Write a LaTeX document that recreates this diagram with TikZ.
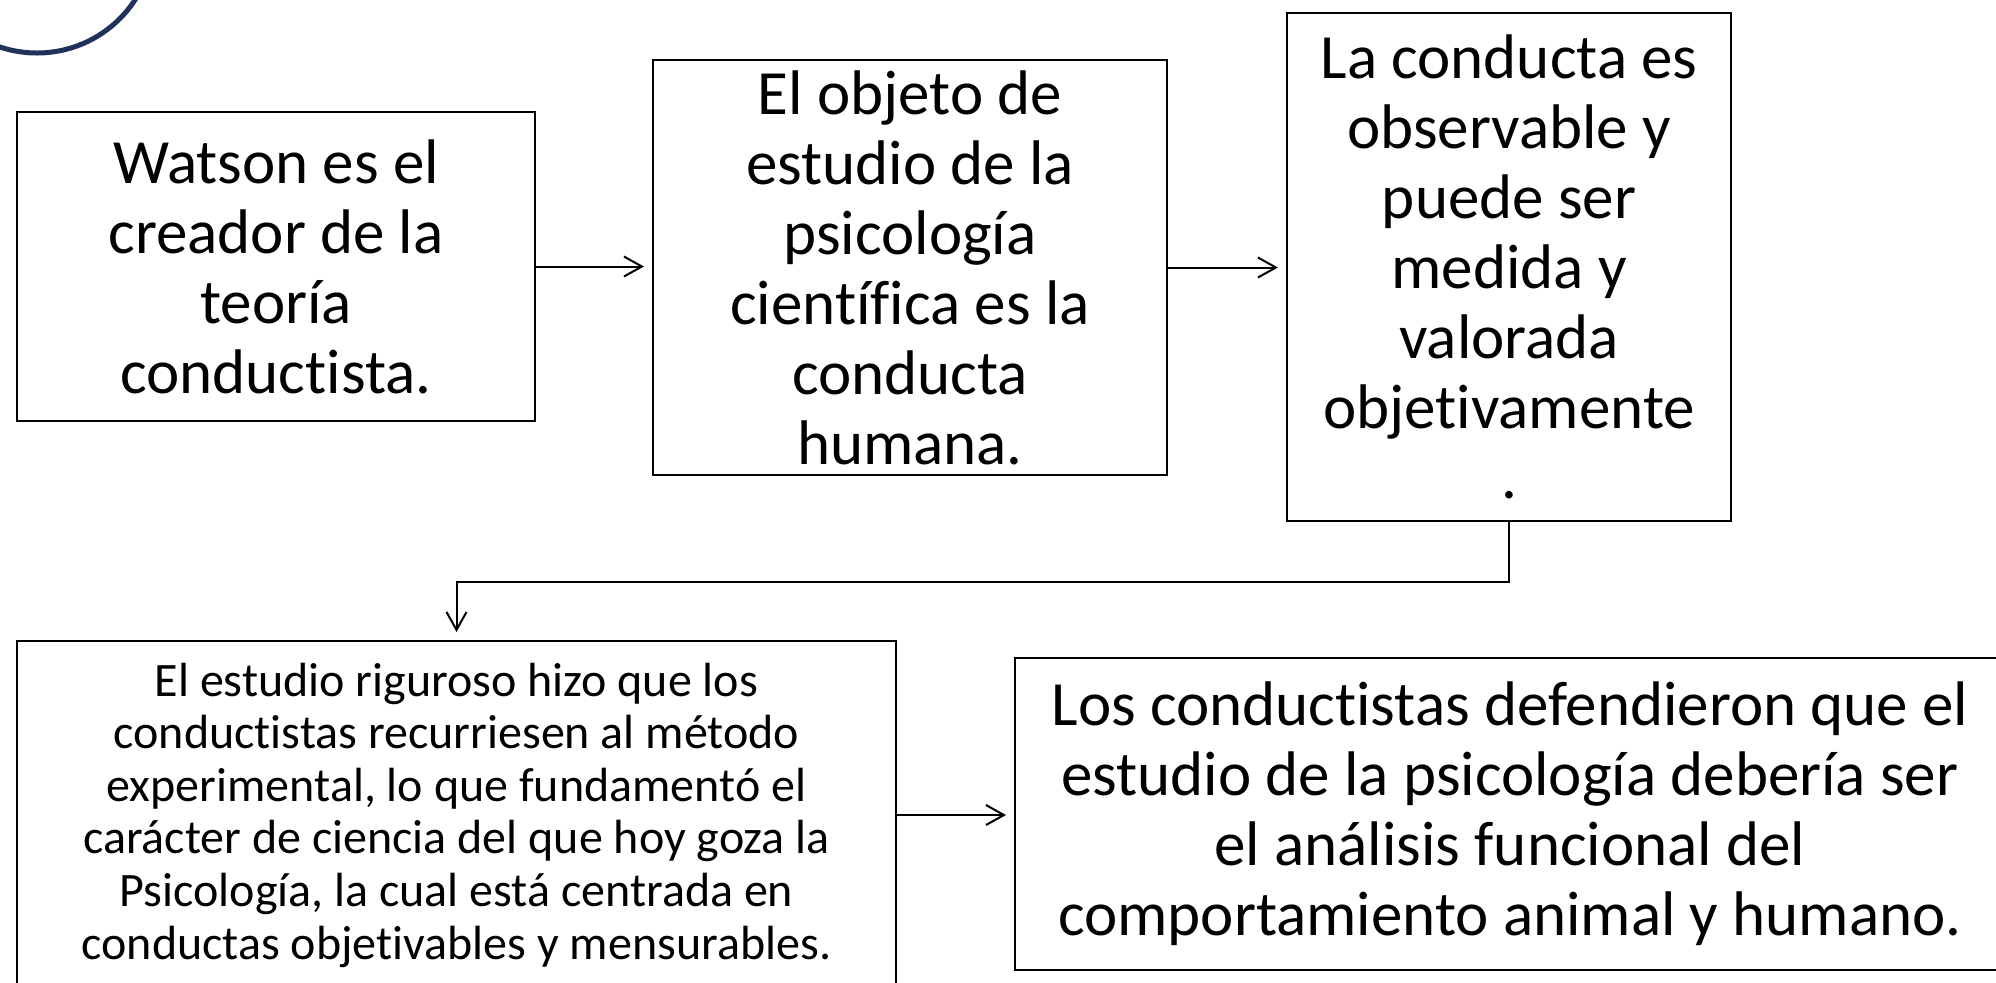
\documentclass[tikz,border=0pt]{standalone}
\usepackage{fontspec}
\setmainfont{Carlito}[Ligatures=NoCommon]
\usetikzlibrary{arrows.meta}
\definecolor{marino}{RGB}{32,50,89}

\begin{document}
\begin{tikzpicture}[x=0.5pt, y=-0.5pt,
		caja/.style={draw, line width=1pt, inner sep=0pt, align=center, font=\fontsize{31.5}{35}\selectfont},
		flecha/.style={line width=1pt, shorten >=4pt, -{Straight Barb[length=9pt, width=10pt]}}]
		%%%%% START %%%%%
		
		\useasboundingbox (0, 0) rectangle (1996, 982);
		
		\draw[line width=2.5pt, color=marino] (37, -64) circle (117);
		
		\node[caja, minimum width=259pt, minimum height=154.5pt] (watson) at (276, 266.5) {Watson es el\\creador de la\\teoría\\conductista.};
		\node[caja, minimum width=257pt, minimum height=207.5pt] (objeto) at (910, 267.5) {El objeto de\\estudio de la\\psicología\\científica es la\\conducta\\humana.};
		\node[caja, minimum width=222pt, minimum height=254pt] (conducta) at (1509, 267) {La conducta es\\observable y\\puede ser\\medida y\\valorada\\objetivamente\\.};
		
		\node[caja, font=\fontsize{24}{26.3}\selectfont, minimum width=439.5pt, minimum height=174pt] (estudio) at (456.5, 815) {El estudio riguroso hizo que los\\conductistas recurriesen al método\\experimental, lo que fundamentó el\\carácter de ciencia del que hoy goza la\\Psicología, la cual está centrada en\\conductas objetivables y mensurables.};
		\node[caja, minimum width=495pt, minimum height=156pt] (conductistas) at (1510, 814) {Los conductistas defendieron que el\\estudio de la psicología debería ser\\el análisis funcional del\\comportamiento animal y humano.};
		
		\draw[flecha] (watson.east) -- (watson.east -| objeto.west);
		\draw[flecha] (objeto.east) -- (objeto.east -| conducta.west);
		\draw[flecha] (conducta.south) -- ++(0, 60) -| (estudio.north);
		\draw[flecha] (estudio.east) -- (estudio.east -| conductistas.west);
		
		%%%%% END %%%%%
	\end{tikzpicture}
\end{document}
